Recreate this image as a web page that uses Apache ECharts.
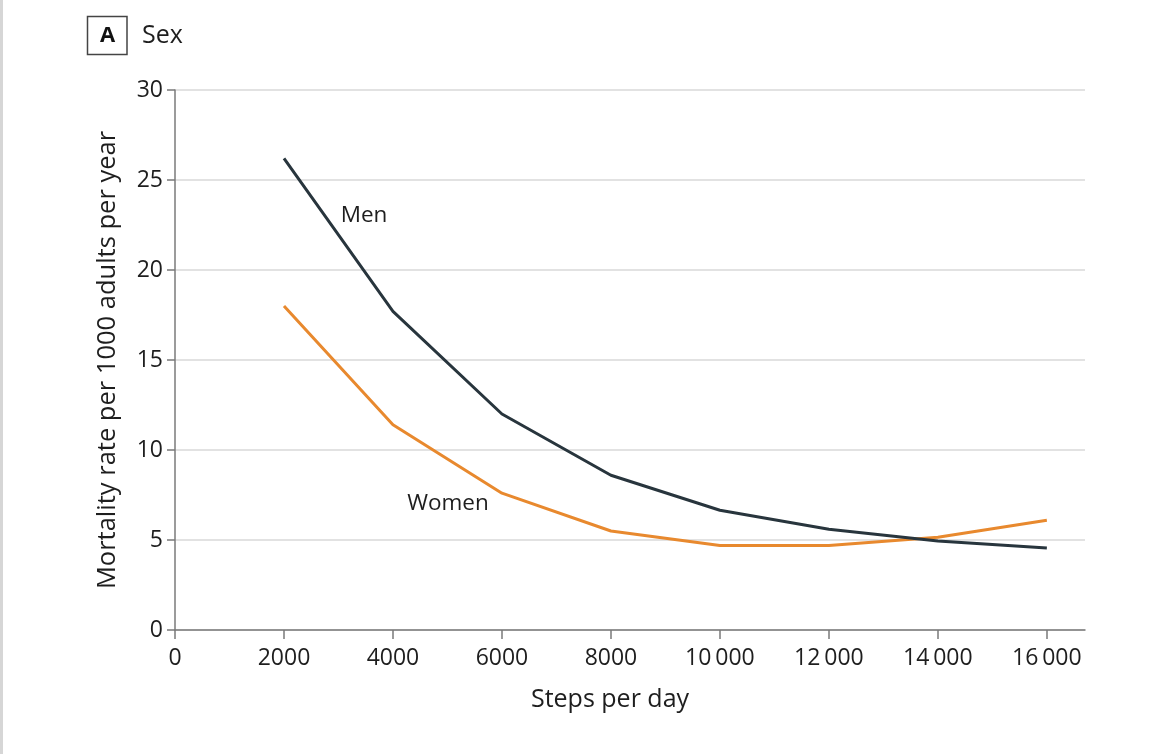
<!DOCTYPE html>
<html>
<head>
<meta charset="utf-8">
<script src="https://cdn.jsdelivr.net/npm/echarts@6/dist/echarts.min.js"></script>
<style>
html,body{margin:0;padding:0;background:#fff;}
#wrap{position:absolute;left:0;top:0;width:1170px;height:754px;background:#fff;}
#strip{position:absolute;left:0;top:0;width:3px;height:754px;background:#d6d6d6;}
#chart{position:absolute;left:0;top:0;width:1170px;height:754px;}
</style>
</head>
<body>
<div id="wrap"><div id="chart"></div><div id="strip"></div></div>
<script>
const steps = [2000, 4000, 6000, 8000, 10000, 12000, 14000, 16000];
const men = [26.2, 17.7, 12.0, 8.6, 6.65, 5.6, 4.95, 4.55];
const women = [18.0, 11.4, 7.6, 5.5, 4.7, 4.7, 5.15, 6.1];
const xTicks = [0, 2000, 4000, 6000, 8000, 10000, 12000, 14000, 16000];
const seriesNames = ['Men', 'Women'];
const panelLetter = 'A';
const panelTitle = 'Sex';
const yTitle = 'Mortality rate per 1000 adults per year';
const xTitle = 'Steps per day';

const FONT = '"Open Sans", "Noto Sans", sans-serif';
const chart = echarts.init(document.getElementById('chart'), null, {renderer: 'canvas'});

function fmt(v) {
  if (v >= 10000) {
    const s = String(v);
    return s.slice(0, s.length - 3) + '\u2009' + s.slice(s.length - 3);
  }
  return String(v);
}

function pairs(vals) { return steps.map((s, i) => [s, vals[i]]); }

chart.setOption({
  animation: false,
  backgroundColor: '#ffffff',
  grid: {left: 175, right: 85, top: 90, bottom: 124, containLabel: false},
  xAxis: {
    type: 'value', min: 0, max: 16700, interval: 2000,
    axisLine: {show: true, onZero: false, lineStyle: {color: '#7a7a7a', width: 1.5}},
    axisTick: {show: true, length: 9, customValues: xTicks, lineStyle: {color: '#7a7a7a', width: 1.5}},
    axisLabel: {customValues: xTicks, formatter: fmt, color: '#1e1e1e', fontFamily: FONT, fontSize: 23, margin: 17},
    splitLine: {show: false}
  },
  yAxis: {
    type: 'value', min: 0, max: 30, interval: 5,
    name: yTitle, nameLocation: 'middle', nameGap: 54,
    nameTextStyle: {color: '#1e1e1e', fontFamily: FONT, fontSize: 25.5},
    axisLine: {show: true, lineStyle: {color: '#7a7a7a', width: 1.5}},
    axisTick: {show: true, length: 8, lineStyle: {color: '#7a7a7a', width: 1.5}},
    axisLabel: {color: '#1e1e1e', fontFamily: FONT, fontSize: 23, margin: 12},
    splitLine: {show: true, lineStyle: {color: '#d9d9d9', width: 1.5}}
  },
  series: [
    {
      name: seriesNames[0], type: 'line', data: pairs(men), symbol: 'none',
      lineStyle: {color: '#28353d', width: 3}, z: 3,
      markPoint: {
        symbol: 'circle', symbolSize: 0,
        data: [{coord: [3470, 23.0], value: seriesNames[0]}],
        label: {show: true, position: 'inside', formatter: seriesNames[0], color: '#1e1e1e', fontFamily: FONT, fontSize: 22.5}
      }
    },
    {
      name: seriesNames[1], type: 'line', data: pairs(women), symbol: 'none',
      lineStyle: {color: '#e8892e', width: 3}, z: 2,
      markPoint: {
        symbol: 'circle', symbolSize: 0,
        data: [{coord: [5010, 7.0], value: seriesNames[1]}],
        label: {show: true, position: 'inside', formatter: seriesNames[1], color: '#1e1e1e', fontFamily: FONT, fontSize: 22.5}
      }
    }
  ],
  graphic: [
    {type: 'rect', shape: {x: 87.5, y: 16.5, width: 39.5, height: 38}, style: {fill: '#fff', stroke: '#444', lineWidth: 1.5}},
    {type: 'text', x: 107.5, y: 36, style: {text: panelLetter, align: 'center', verticalAlign: 'middle', font: 'bold 22px ' + FONT, fill: '#111'}},
    {type: 'text', x: 142, y: 36, style: {text: panelTitle, align: 'left', verticalAlign: 'middle', font: '25px ' + FONT, fill: '#1e1e1e'}},
    {type: 'text', x: 610, y: 700, style: {text: xTitle, align: 'center', verticalAlign: 'middle', font: '25px ' + FONT, fill: '#1e1e1e'}}
  ]
});
</script>
</body>
</html>
